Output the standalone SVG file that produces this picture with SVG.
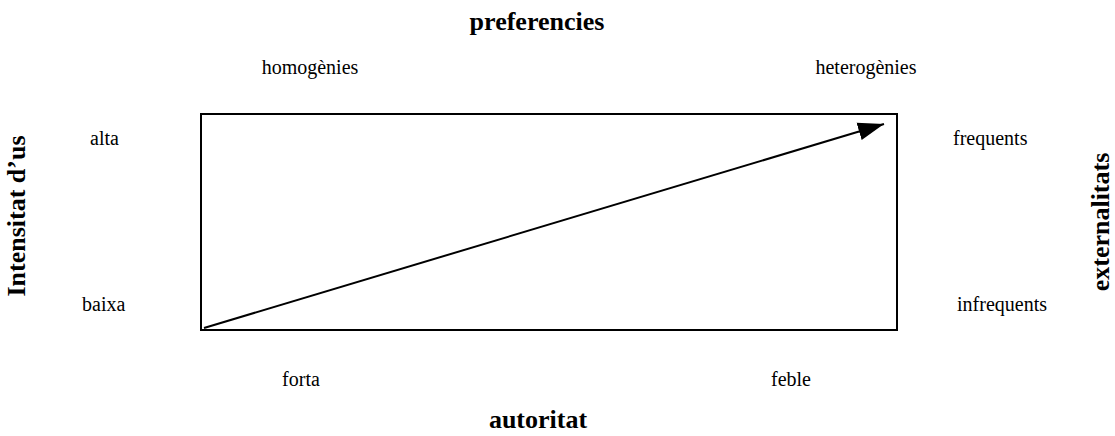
<svg xmlns="http://www.w3.org/2000/svg" width="1115" height="436" viewBox="0 0 1115 436">
<style>
.t{font-family:"Liberation Serif",serif;font-size:20px;fill:#000}
.b{font-family:"Liberation Serif",serif;font-size:26px;font-weight:bold;fill:#000}
</style>
<defs>
<marker id="ah" markerUnits="userSpaceOnUse" markerWidth="28" markerHeight="22" refX="26" refY="11" orient="auto">
<polygon points="0,2 26,11 0,20" fill="#000"/>
</marker>
</defs>
<rect width="1115" height="436" fill="#fff"/>
<g id="frame">
<rect x="201" y="114" width="696" height="216" fill="none" stroke="#000" stroke-width="2"/>
</g>
<g id="connectors">
<line x1="204" y1="328" x2="884" y2="124" stroke="#000" stroke-width="2" marker-end="url(#ah)"/>
</g>
<g id="top-title"><text class="b" x="537" y="30" text-anchor="middle">preferencies</text></g>
<g id="homogenies"><text class="t" x="310" y="74" text-anchor="middle">homogènies</text></g>
<g id="heterogenies"><text class="t" x="866" y="74" text-anchor="middle">heterogènies</text></g>
<g id="alta"><text class="t" x="90" y="145">alta</text></g>
<g id="baixa"><text class="t" x="82" y="311">baixa</text></g>
<g id="frequents"><text class="t" x="953" y="145">frequents</text></g>
<g id="infrequents"><text class="t" x="957" y="311">infrequents</text></g>
<g id="forta"><text class="t" x="301" y="386" text-anchor="middle">forta</text></g>
<g id="feble"><text class="t" x="791" y="386" text-anchor="middle">feble</text></g>
<g id="bottom-title"><text class="b" x="538" y="428" text-anchor="middle">autoritat</text></g>
<g id="left-title"><text class="b" transform="translate(25,216) rotate(-90)" text-anchor="middle">Intensitat d’us</text></g>
<g id="right-title"><text class="b" transform="translate(1109,222) rotate(-90)" text-anchor="middle">externalitats</text></g>
</svg>
